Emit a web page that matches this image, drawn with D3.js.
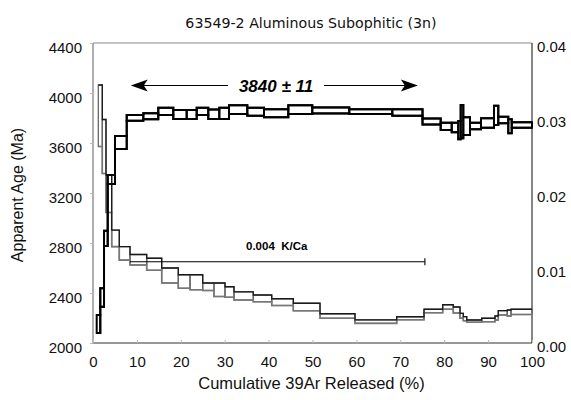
<!DOCTYPE html>
<html>
<head>
<meta charset="utf-8">
<script src="https://cdn.jsdelivr.net/npm/d3@7/dist/d3.min.js"></script>
<style>
  html, body { margin: 0; padding: 0; background: #fff; }
  svg { display: block; font-family: "Liberation Sans", Arial, sans-serif; }
</style>
</head>
<body>
<svg id="chart" width="571" height="400"></svg>
<script>
// Step boundaries (cumulative % 39Ar) and apparent ages (Ma) with 1-sigma errors
const ageBounds = [0.84, 1.66, 2.51, 3.35, 5.01, 7.68, 11.46, 14.87, 18.29, 21.34, 23.62,
  26.26, 28.77, 30.98, 35.15, 38.95, 44.49, 49.95, 58.38, 68.18, 75.06, 79.20, 81.71,
  83.21, 83.76, 84.35, 85.88, 88.38, 91.34, 92.32, 94.60, 95.38, 100];
const ages = [2152, 2364, 2837, 3308, 3604, 3801, 3814, 3853, 3828, 3828, 3853, 3830, 3837,
  3867, 3850, 3838, 3867, 3861, 3851, 3844, 3772, 3733, 3724, 3703, 3771, 3735, 3736,
  3760, 3821, 3784, 3734, 3744];
const ageErrs = [72, 74, 61, 36, 52, 23, 24, 29, 36, 36, 29, 38, 45, 35, 32, 32, 35, 24, 19,
  26, 24, 29, 38, 73, 133, 71, 26, 38, 77, 26, 56, 22];

// K/Ca spectrum
const kcaBounds = [1.21, 2.12, 2.96, 4.26, 5.99, 8.43, 12.23, 15.65, 19.43, 22.10, 24.99,
  27.56, 30.07, 32.12, 36.51, 40.71, 45.63, 51.71, 59.68, 69.18, 75.40, 79.66, 82.07,
  83.60, 84.35, 85.13, 88.54, 91.57, 92.32, 94.37, 95.22, 100];
const kca = [0.0303, 0.0262, 0.0199, 0.01395, 0.01195, 0.0111, 0.0105, 0.0090, 0.0082,
  0.0081, 0.0075, 0.0071, 0.0068, 0.00628, 0.00595, 0.00545, 0.0048, 0.0036, 0.00285,
  0.0033, 0.00427, 0.0048, 0.0044, 0.00363, 0.00324, 0.00292, 0.00307, 0.00333, 0.00402,
  0.0040, 0.00415];
const kcaErrs = [0.0041, 0.0036, 0.0025, 0.0011, 0.0009, 0.0007, 0.0008, 0.0010, 0.0009,
  0.0010, 0.0005, 0.0009, 0.0007, 0.00055, 0.00045, 0.00045, 0.0005, 0.0003, 0.00023,
  0.0002, 0.00023, 0.0003, 0.0004, 0.00033, 0.00027, 0.00015, 0.00023, 0.00027, 0.00029,
  0.0004, 0.00035];

// Plateau and mean K/Ca
const plateauAge = 3840, plateauErr = 11;
const plateauRange = [8.6, 74.0];
const meanKCa = 0.004;
const kcaRange = [8.4, 75.6];

// Axes
const xTicks = [0, 10, 20, 30, 40, 50, 60, 70, 80, 90, 100];
const ageTicks = [2000, 2400, 2800, 3200, 3600, 4000, 4400];
const kcaTicks = [0, 0.01, 0.02, 0.03, 0.04];

const title = "63549-2 Aluminous Subophitic (3n)";
const xTitle = "Cumulative 39Ar Released (%)";
const yTitle = "Apparent Age (Ma)";

const L = 93, R = 532, T = 43, B = 343;
const svg = d3.select("#chart");
const x = d3.scaleLinear().domain([0, 100]).range([L, R]);
const yAge = d3.scaleLinear().domain([2000, 4400]).range([B, T]);
const yK = d3.scaleLinear().domain([0, 0.04]).range([B, T]);

// frame
svg.append("line").attr("x1", L).attr("x2", R).attr("y1", T).attr("y2", T)
  .attr("stroke", "#8a8a8a").attr("stroke-width", 1.2);
svg.append("line").attr("x1", L).attr("x2", L).attr("y1", T).attr("y2", B)
  .attr("stroke", "#7a7a7a").attr("stroke-width", 1.2);
svg.append("line").attr("x1", R).attr("x2", R).attr("y1", T).attr("y2", B)
  .attr("stroke", "#333").attr("stroke-width", 1.2);
svg.append("line").attr("x1", L).attr("x2", R).attr("y1", B).attr("y2", B)
  .attr("stroke", "#333").attr("stroke-width", 1.2);

// axes via d3 axis generators
const xAxis = svg.append("g").attr("transform", `translate(0,${B})`)
  .call(d3.axisBottom(x).tickValues(xTicks).tickSize(-3).tickPadding(10).tickFormat(d3.format("d")));
const lAxis = svg.append("g").attr("transform", `translate(${L},0)`)
  .call(d3.axisLeft(yAge).tickValues(ageTicks).tickSize(3).tickPadding(8).tickFormat(d3.format("d")));
const rAxis = svg.append("g").attr("transform", `translate(${R},0)`)
  .call(d3.axisRight(yK).tickValues(kcaTicks).tickSize(0).tickPadding(5).tickFormat(d3.format(".2f")));
[xAxis, lAxis, rAxis].forEach(g => {
  g.select(".domain").remove();
  g.selectAll(".tick line").attr("stroke", "#bbb");
  g.selectAll(".tick text").attr("font-size", 15).attr("fill", "#111")
    .attr("font-family", "'Liberation Sans', Arial, sans-serif");
});
xAxis.selectAll(".tick text").attr("dy", "0.95em");
lAxis.selectAll(".tick text").attr("dy", "0.62em");
rAxis.selectAll(".tick text").attr("dy", "0.55em");

// titles
svg.append("text").attr("x", 311).attr("y", 28).attr("text-anchor", "middle")
  .attr("font-family", "'DejaVu Sans', sans-serif").attr("font-size", 14.2)
  .attr("fill", "#111").text(title);
svg.append("text").attr("x", (L + R) / 2 - 1).attr("y", 389).attr("text-anchor", "middle")
  .attr("font-size", 16.5).attr("fill", "#111").text(xTitle);
svg.append("text").attr("transform", `translate(23,${(T + B) / 2 + 2}) rotate(-90)`)
  .attr("text-anchor", "middle").attr("font-size", 16).attr("fill", "#111").text(yTitle);

// spectrum drawer: one box per heating step plus upper/lower step outlines
function spectrum(bounds, vals, errs, y, opt) {
  const g = svg.append("g");
  const top = vals.map((v, i) => v + errs[i]);
  const bot = vals.map((v, i) => v - errs[i]);
  const stepLine = d3.line().curve(d3.curveStepAfter).x(d => x(d[0])).y(d => y(d[1]));
  const pts = arr => arr.map((v, i) => [bounds[i], v]).concat([[bounds[arr.length], arr[arr.length - 1]]]);
  g.selectAll("rect").data(vals).join("rect")
    .attr("x", (d, i) => x(bounds[i]))
    .attr("width", (d, i) => x(bounds[i + 1]) - x(bounds[i]))
    .attr("y", (d, i) => y(top[i]))
    .attr("height", (d, i) => y(bot[i]) - y(top[i]))
    .attr("fill", "none").attr("stroke", opt.side).attr("stroke-width", opt.w);
  g.append("path").attr("d", stepLine(pts(bot))).attr("fill", "none")
    .attr("stroke", opt.lower).attr("stroke-width", opt.wLower || opt.w);
  g.append("path").attr("d", stepLine(pts(top))).attr("fill", "none")
    .attr("stroke", opt.upper).attr("stroke-width", opt.w);
}

spectrum(kcaBounds, kca, kcaErrs, yK, { side: "#666", upper: "#1a1a1a", lower: "#777", w: 1.3, wLower: 1.6 });
spectrum(ageBounds, ages, ageErrs, yAge, { side: "#000", upper: "#000", lower: "#000", w: 2 });

// plateau arrow annotation
const arrowY = 85.5;
const ax0 = x(plateauRange[0]), ax1 = x(plateauRange[1]);
const labelX = 276;
svg.append("line").attr("x1", ax0 + 10).attr("x2", labelX - 48).attr("y1", arrowY).attr("y2", arrowY)
  .attr("stroke", "#000").attr("stroke-width", 1.2);
svg.append("line").attr("x1", labelX + 48).attr("x2", ax1 - 10).attr("y1", arrowY).attr("y2", arrowY)
  .attr("stroke", "#000").attr("stroke-width", 1.2);
svg.append("path").attr("d", `M${ax0},${arrowY} L${ax0 + 17},${arrowY - 6} L${ax0 + 13},${arrowY} L${ax0 + 17},${arrowY + 6} Z`)
  .attr("fill", "#000");
svg.append("path").attr("d", `M${ax1},${arrowY} L${ax1 - 17},${arrowY - 6} L${ax1 - 13},${arrowY} L${ax1 - 17},${arrowY + 6} Z`)
  .attr("fill", "#000");
svg.append("text").attr("x", labelX).attr("y", arrowY + 6).attr("text-anchor", "middle")
  .attr("font-size", 17).attr("font-weight", "bold").attr("font-style", "italic")
  .attr("fill", "#000").text(`${plateauAge} ± ${plateauErr}`);

// mean K/Ca range bar
const barY = 261.7;
const kx0 = x(kcaRange[0]), kx1 = x(kcaRange[1]);
svg.append("line").attr("x1", kx0).attr("x2", kx1).attr("y1", barY).attr("y2", barY)
  .attr("stroke", "#000").attr("stroke-width", 1.1);
svg.append("line").attr("x1", kx1).attr("x2", kx1).attr("y1", barY - 3.5).attr("y2", barY + 3.5)
  .attr("stroke", "#000").attr("stroke-width", 1.1);
svg.append("text").attr("x", 246).attr("y", 250)
  .attr("font-size", 11.5).attr("font-weight", "bold").attr("fill", "#000")
  .attr("xml:space", "preserve").style("white-space", "pre")
  .text(`${d3.format(".3f")(meanKCa)}  K/Ca`);
</script>
</body>
</html>
